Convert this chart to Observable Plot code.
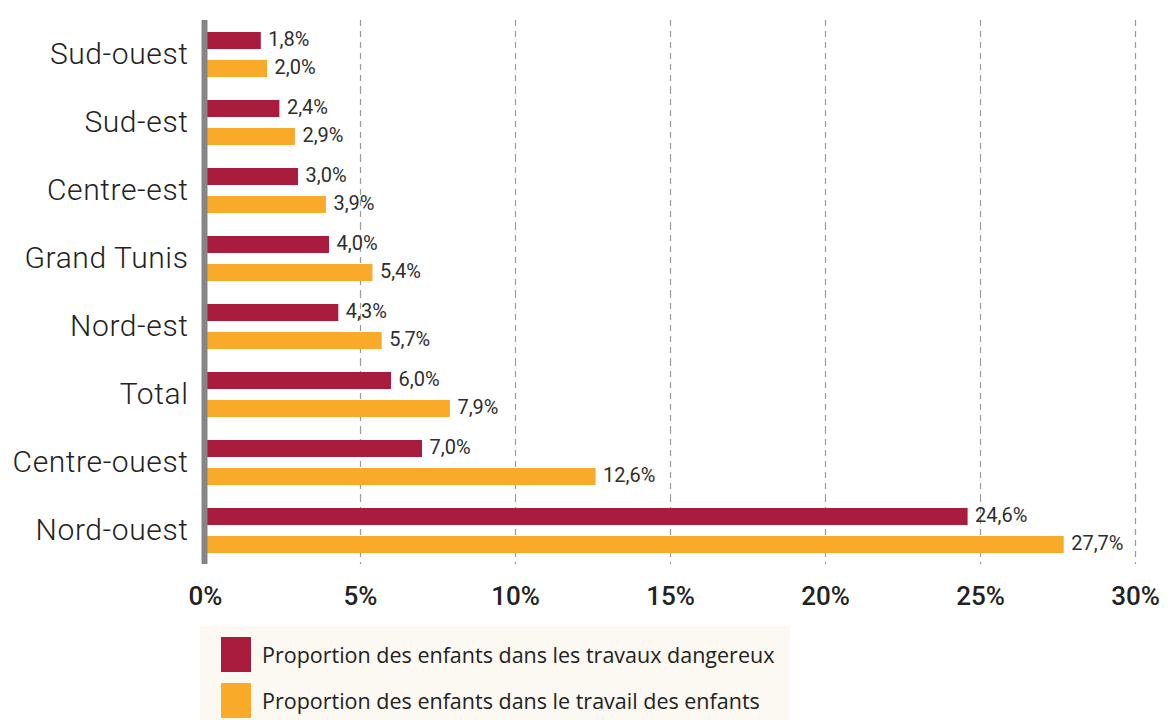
<!DOCTYPE html>
<html>
<head>
<meta charset="utf-8">
<script src="https://cdn.jsdelivr.net/npm/d3@7"></script>
<script src="https://cdn.jsdelivr.net/npm/@observablehq/plot@0.6"></script>
<style>
  body { margin: 0; background: #fff; }
  #chart svg { display: block; }
  .legend { margin-left: 200px; width: 590px; height: 94px; background: #fcf8f2; box-sizing: border-box; padding-top: 11px; padding-left: 21px; font-family: "Open Sans", "Noto Sans", sans-serif; font-size: 21.5px; color: #222; }
  .legend .row { display: flex; align-items: center; height: 35px; margin-bottom: 11px; }
  .legend .sw { width: 30px; height: 35px; margin-right: 11px; flex: none; }
</style>
</head>
<body>
<div id="chart"></div>
<div class="legend" id="legend"></div>
<script>
const regions = ["Sud-ouest", "Sud-est", "Centre-est", "Grand Tunis", "Nord-est", "Total", "Centre-ouest", "Nord-ouest"];
const seriesNames = ["Proportion des enfants dans les travaux dangereux", "Proportion des enfants dans le travail des enfants"];
const dangereux = [1.8, 2.4, 3.0, 4.0, 4.3, 6.0, 7.0, 24.6];
const travail = [2.0, 2.9, 3.9, 5.4, 5.7, 7.9, 12.6, 27.7];
const xTicks = [0, 5, 10, 15, 20, 25, 30];
const gridTicks = [5, 10, 15, 20, 25, 30];
const colors = ["#aa1c3d", "#f9aa29"];

const data = [];
regions.forEach((r, i) => {
  data.push({region: r, series: seriesNames[0], value: dangereux[i]});
  data.push({region: r, series: seriesNames[1], value: travail[i]});
});

const fmt = v => v.toFixed(1).replace(".", ",") + "%";

const chart = Plot.plot({
  width: 1168,
  height: 626,
  marginTop: 17,
  marginBottom: 60,
  marginLeft: 205,
  marginRight: 33,
  style: {fontFamily: "Roboto, sans-serif", color: "#222", background: "#fff"},
  x: {domain: [0, 30], ticks: xTicks, tickFormat: d => d + "%", tickSize: 0, tickPadding: 22, label: null},
  y: {domain: seriesNames, axis: null, paddingInner: 0.4, paddingOuter: 0.4},
  fy: {domain: regions, padding: 0, axis: "left", tickSize: 0, tickPadding: 17, label: null},
  color: {domain: seriesNames, range: colors},
  marks: [
    Plot.ruleX(gridTicks, {stroke: "#9a9a9a", strokeWidth: 1.2, strokeDasharray: "6,5"}),
    Plot.barX(data, {x: "value", y: "series", fy: "region", fill: "series"}),
    Plot.text(data, {x: "value", y: "series", fy: "region", text: d => fmt(d.value), textAnchor: "start", dx: 7, dy: -1, fontSize: 20, fontWeight: 400, fill: "#2e2e2e"}),
    Plot.ruleX([0], {stroke: "#858585", strokeWidth: 6, dx: -1})
  ]
});

d3.select(chart).selectAll('[aria-label^="x-axis"] text')
  .style("font-size", "26px").style("font-weight", "500").style("fill", "#222");
d3.select(chart).selectAll('[aria-label^="fy-axis"] text')
  .style("font-size", "30px").style("font-weight", "300").style("letter-spacing", "0.6px").style("fill", "#222");

document.getElementById("chart").appendChild(chart);

const legend = d3.select("#legend");
seriesNames.forEach((s, i) => {
  const row = legend.append("div").attr("class", "row");
  row.append("div").attr("class", "sw").style("background", colors[i]);
  row.append("span").text(s);
});
</script>
</body>
</html>
